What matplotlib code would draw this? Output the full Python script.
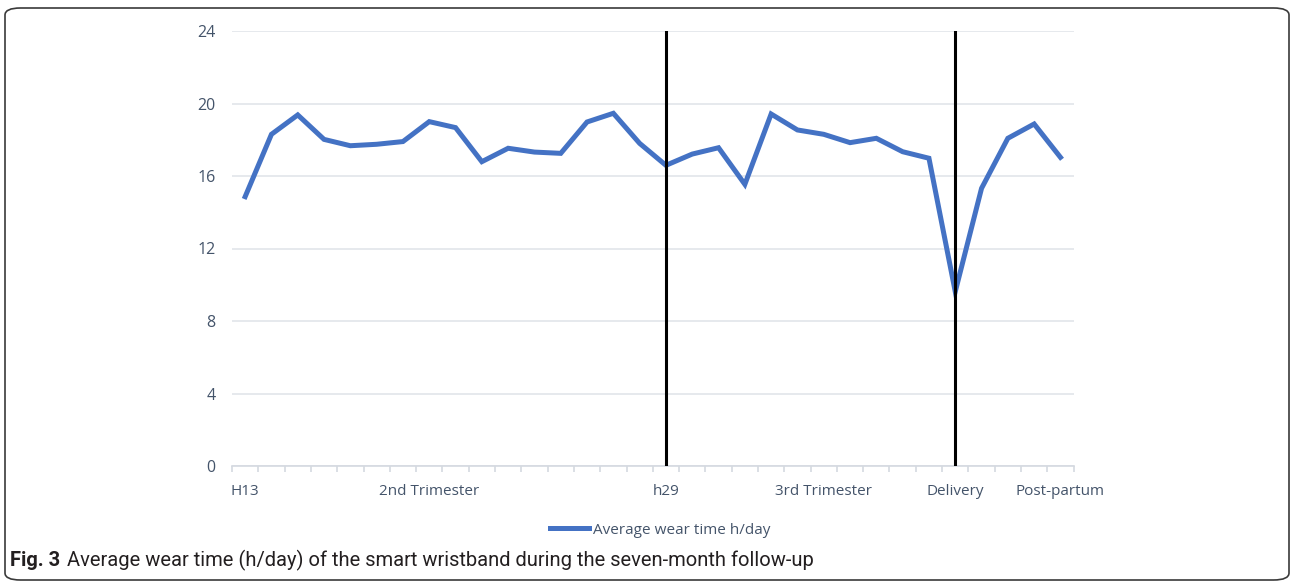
import numpy as np
import matplotlib
matplotlib.use("Agg")
import matplotlib.pyplot as plt
from matplotlib.patches import FancyBboxPatch
from matplotlib.lines import Line2D

# data
wear_hours = [14.86, 18.3, 19.37, 18.02, 17.67, 17.75, 17.9, 19.0, 18.67, 16.79,
              17.53, 17.32, 17.25, 18.98, 19.46, 17.8, 16.59, 17.21, 17.56, 15.54,
              19.42, 18.54, 18.3, 17.84, 18.08, 17.34, 16.98, 9.62, 15.32, 18.08,
              18.87, 17.03]
label_pos = [0, 7, 16, 22, 27, 31]
label_text = ["H13", "2nd Trimester", "h29", "3rd Trimester", "Delivery", "Post-partum"]
marker_pos = [16, 27]
y_ticks = [0, 4, 8, 12, 16, 20, 24]

plt.rcParams['font.family'] = ['Open Sans', 'DejaVu Sans']
txt_col = '#44546a'

W, H = 1292, 584
fig = plt.figure(figsize=(W / 100, H / 100), dpi=100)
ax = fig.add_axes([232 / W, 1 - 466 / H, (1073.6 - 232) / W, (466 - 31) / H])

x = np.arange(len(wear_hours))
ax.plot(x, wear_hours, color='#4472c4', lw=3.6, solid_joinstyle='miter',
        label='Average wear time h/day', zorder=3)
for p in marker_pos:
    ax.axvline(p, ymin=0, ymax=0.997, color='black', lw=2.2, zorder=4)

ax.set_xlim(-0.5, len(wear_hours) - 0.5)
ax.set_ylim(0, 24)
ax.set_yticks(y_ticks)
ax.grid(axis='y', color='#e1e5ea', lw=1.2)
ax.set_axisbelow(True)
for s in ['top', 'right', 'left']:
    ax.spines[s].set_visible(False)
ax.spines['bottom'].set_color('#d4d9e0')
ax.spines['bottom'].set_linewidth(1.2)

ax.set_xticks(label_pos)
ax.set_xticklabels(label_text)
ax.set_xticks(np.arange(-0.5, len(wear_hours)), minor=True)
ax.tick_params(axis='x', which='major', length=0, pad=13, labelsize=11, labelcolor=txt_col)
ax.tick_params(axis='x', which='minor', length=4, width=1.2, color='#d4d9e0')
ax.tick_params(axis='y', length=0, pad=12, labelsize=11.5, labelcolor=txt_col)

# legend below the plot
handle = Line2D([], [], color='#4472c4', lw=3.6)
fig.legend([handle], ['Average wear time h/day'], loc='center',
           bbox_to_anchor=(660 / W, 1 - 530 / H), frameon=False, fontsize=11,
           labelcolor=txt_col, handlelength=2.6, handletextpad=0.25)

# caption
cap_font = ['Roboto', 'DejaVu Sans']
t1 = fig.text(10 / W, 1 - 566 / H, "Fig. 3", fontsize=14.5, fontweight='bold',
              family=cap_font, va='baseline', ha='left', color='#231f20')
fig.canvas.draw()
bb = t1.get_window_extent()
fig.text((bb.x1 + 7) / W, 1 - 566 / H,
         "Average wear time (h/day) of the smart wristband during the seven-month follow-up",
         fontsize=14.5, family=cap_font, va='baseline', ha='left', color='#231f20')

# rounded frame around the figure
frame = FancyBboxPatch((5 / W, 4 / H), 1284 / W, 572 / H,
                       boxstyle="round,pad=0,rounding_size=0.012",
                       transform=fig.transFigure, fill=False, ec='#3a3a3a', lw=1.2)
fig.patches.append(frame)

fig.savefig('out.png', dpi=100)
